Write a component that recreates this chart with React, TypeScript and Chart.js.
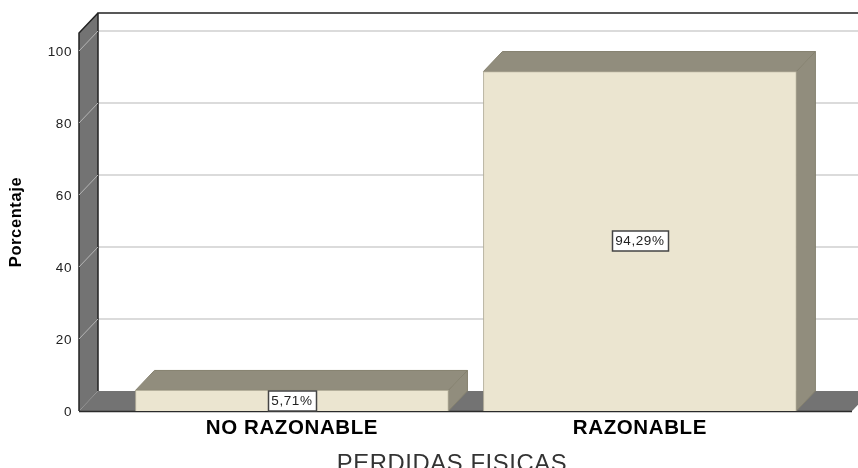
import React, { useEffect, useRef } from "react";
import { Chart, registerables } from "chart.js";

Chart.register(...registerables);

const categories = ["NO RAZONABLE", "RAZONABLE"];
const positions = [0, 1];
const percentages = [5.71, 94.29];
const valueLabels = ["5,71%", "94,29%"];
const yTicks = [0, 20, 40, 60, 80, 100];
const yTitle = "Porcentaje";
const xTitle = "PERDIDAS FISICAS";

const DX = 19;
const DY = -20;
const FONT = "'Liberation Sans', Arial, sans-serif";

const poly = (ctx: CanvasRenderingContext2D, pts: number[][], fill: string, stroke?: string, lw = 1) => {
  ctx.beginPath();
  pts.forEach((p, i) => (i ? ctx.lineTo(p[0], p[1]) : ctx.moveTo(p[0], p[1])));
  ctx.closePath();
  ctx.fillStyle = fill;
  ctx.fill();
  if (stroke) {
    ctx.strokeStyle = stroke;
    ctx.lineWidth = lw;
    ctx.stroke();
  }
};

const roomPlugin = {
  id: "room",
  beforeDraw(chart: any) {
    chart.ctx.letterSpacing = "0.6px";
  },
  beforeDatasetsDraw(chart: any) {
    const { ctx, chartArea, scales } = chart;
    const y = scales.y;
    const L = chartArea.left;
    const T = chartArea.top;
    const B = chartArea.bottom;
    const R = 852;
    ctx.save();
    // floor
    poly(ctx, [[L, B], [L + DX, B + DY], [R + DX, B + DY], [R, B]], "#737373");
    ctx.strokeStyle = "#2a2a2a";
    ctx.lineWidth = 1.5;
    ctx.beginPath();
    ctx.moveTo(L, B + 0.5);
    ctx.lineTo(R, B + 0.5);
    ctx.stroke();
    ctx.strokeStyle = "#cfcfcf";
    ctx.lineWidth = 1.5;
    // grid lines on the back wall
    yTicks.slice(1).forEach((t) => {
      const py = Math.round(y.getPixelForValue(t));
      ctx.beginPath();
      ctx.moveTo(L + DX, py + DY);
      ctx.lineTo(858, py + DY);
      ctx.stroke();
    });
    // left wall
    poly(ctx, [[L, B], [L + DX, B + DY], [L + DX, T + DY], [L, T]], "#737373");
    ctx.strokeStyle = "#222";
    ctx.lineWidth = 1.5;
    ctx.beginPath();
    ctx.moveTo(L + DX, B + DY);
    ctx.lineTo(L + DX, T + DY);
    ctx.lineTo(858, T + DY);
    ctx.moveTo(L + DX, T + DY);
    ctx.lineTo(L, T);
    ctx.lineTo(L, B);
    ctx.stroke();
    // grid lines continuing across the wall
    ctx.strokeStyle = "#b5b5b5";
    ctx.lineWidth = 1;
    yTicks.slice(1).forEach((t) => {
      const py = y.getPixelForValue(t);
      ctx.beginPath();
      ctx.moveTo(L, py);
      ctx.lineTo(L + DX, py + DY);
      ctx.stroke();
    });
    // bar depth faces
    chart.getDatasetMeta(0).data.forEach((bar: any) => {
      const l = bar.x - bar.width / 2;
      const r = bar.x + bar.width / 2;
      const t = bar.y;
      const b = bar.base;
      poly(ctx, [[l, t], [l + DX, t + DY], [r + DX, t + DY], [r, t]], "#918d7d", "#85816f");
      poly(ctx, [[r, t], [r + DX, t + DY], [r + DX, b + DY], [r, b]], "#918d7d", "#85816f");
    });
    ctx.restore();
  },
  afterDatasetsDraw(chart: any) {
    const { ctx } = chart;
    ctx.save();
    ctx.font = `13.5px ${FONT}`;
    ctx.textAlign = "center";
    ctx.textBaseline = "middle";
    chart.getDatasetMeta(0).data.forEach((bar: any, i: number) => {
      const cy = Math.round((bar.y + bar.base) / 2);
      const w = Math.round(ctx.measureText(valueLabels[i]).width) + 7;
      const x0 = Math.round(bar.x - w / 2) + 0.5;
      ctx.fillStyle = "#ffffff";
      ctx.strokeStyle = "#444";
      ctx.lineWidth = 1.5;
      ctx.fillRect(x0, cy - 10, w, 20);
      ctx.strokeRect(x0, cy - 10, w, 20);
      ctx.fillStyle = "#222";
      ctx.fillText(valueLabels[i], bar.x, cy + 0.5);
    });
    ctx.restore();
  },
};

export default function App() {
  const ref = useRef<HTMLCanvasElement>(null);
  useEffect(() => {
    document.body.style.margin = "0";
    const chart = new Chart(ref.current!, {
      type: "bar",
      data: {
        datasets: [
          {
            label: yTitle,
            data: positions.map((x, i) => ({ x, y: percentages[i] })),
            backgroundColor: "#ebe5d0",
            borderColor: "#b5b09c",
            borderWidth: 1,
            barThickness: 313,
          },
        ],
      },
      options: {
        animation: false,
        responsive: false,
        layout: { padding: { top: 33, right: 33, left: 0, bottom: 0 } },
        plugins: { legend: { display: false }, tooltip: { enabled: false } },
        scales: {
          x: {
            type: "linear",
            offset: false,
            min: -0.612,
            max: 1.532,
            grid: { display: false },
            border: { display: false },
            afterBuildTicks: (s: any) => {
              s.ticks = positions.map((value) => ({ value }));
            },
            afterFit: (s: any) => {
              s.height = 57;
            },
            ticks: {
              callback: (v: any) => categories[v],
              autoSkip: false,
              maxRotation: 0,
              padding: -3,
              color: "#000",
              font: { family: FONT, size: 20.5, weight: "bold" },
            },
            title: {
              display: true,
              text: xTitle,
              color: "#333",
              font: { family: FONT, size: 23.8 },
              padding: { top: 0, bottom: -11 },
            },
          },
          y: {
            min: 0,
            max: 105,
            grid: { display: false, drawTicks: false },
            border: { display: false },
            afterBuildTicks: (s: any) => {
              s.ticks = yTicks.map((value) => ({ value }));
            },
            afterFit: (s: any) => {
              s.width = 79;
            },
            ticks: {
              padding: 7,
              labelOffset: 1,
              color: "#222",
              font: { family: FONT, size: 13.5 },
            },
            title: {
              display: true,
              text: yTitle,
              color: "#000",
              font: { family: FONT, size: 16.5, weight: "bold" },
              padding: { top: 7, bottom: 0 },
            },
          },
        },
      },
      plugins: [roomPlugin],
    } as any);
    return () => chart.destroy();
  }, []);
  return <canvas ref={ref} width={858} height={468} style={{ display: "block" }} />;
}
